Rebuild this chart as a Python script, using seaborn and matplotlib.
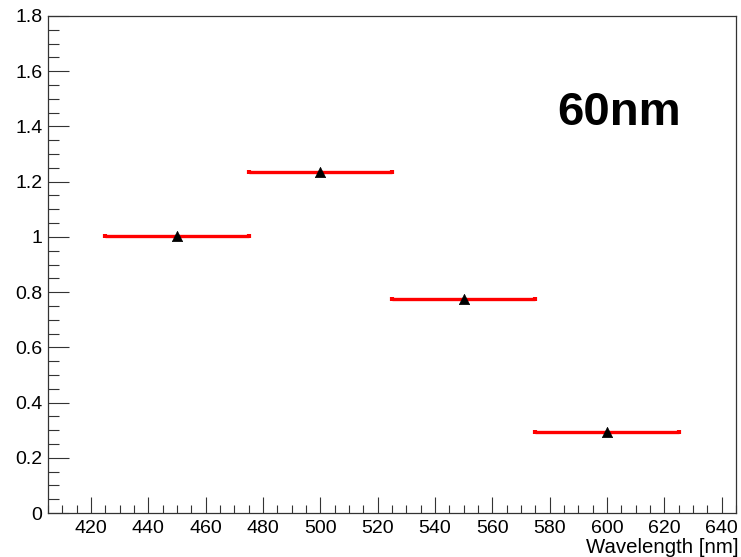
import matplotlib
matplotlib.use("Agg")
import matplotlib.pyplot as plt
import seaborn as sns
import pandas as pd
import numpy as np
from matplotlib.ticker import MultipleLocator, FuncFormatter

wavelength = [450, 500, 550, 600]
ratio = [1.002, 1.236, 0.774, 0.292]
x_err = [25, 25, 25, 25]
label_text = "60nm"
x_label = "Wavelength [nm]"

sns.set_style("white")
plt.rcParams['font.family'] = ['Liberation Sans', 'DejaVu Sans']
plt.rcParams['text.color'] = 'black'
plt.rcParams['xtick.color'] = 'black'
plt.rcParams['ytick.color'] = 'black'

df = pd.DataFrame({"wavelength": wavelength, "ratio": ratio, "xerr": x_err})

fig = plt.figure(figsize=(7.41, 5.57), dpi=100)
ax = fig.add_axes([48/741, 44/557, (736-48)/741, (513-16)/557])

ax.errorbar(df["wavelength"], df["ratio"], xerr=df["xerr"], fmt='none',
            ecolor='red', elinewidth=2.4, capsize=1.5, capthick=3, zorder=2)
sns.scatterplot(data=df, x="wavelength", y="ratio", marker='^', color='black',
                s=55, edgecolor='black', linewidth=0.5, ax=ax, zorder=3)

ax.set_xlim(405, 645)
ax.set_ylim(0, 1.8)
ax.xaxis.set_major_locator(MultipleLocator(20))
ax.xaxis.set_minor_locator(MultipleLocator(5))
ax.yaxis.set_major_locator(MultipleLocator(0.2))
ax.yaxis.set_minor_locator(MultipleLocator(0.05))

def yfmt(v, pos):
    s = f"{v:.1f}"
    if s.endswith(".0"):
        s = s[:-2]
    return s
ax.yaxis.set_major_formatter(FuncFormatter(yfmt))

ax.tick_params(axis='both', which='both', direction='in', top=False, right=False,
               bottom=True, left=True, labelsize=14, width=0.8,
               color='#333333', labelcolor='black')
ax.tick_params(axis='x', which='major', length=11.5, pad=5)
ax.tick_params(axis='x', which='minor', length=5.8)
ax.tick_params(axis='y', which='major', length=15, pad=4)
ax.tick_params(axis='y', which='minor', length=8)

for sp in ax.spines.values():
    sp.set_visible(True)
    sp.set_color('#333333')
    sp.set_linewidth(0.9)

ax.set_xlabel("")
ax.set_ylabel("")
fig.text(739/741, 4/557, x_label, ha='right', va='baseline', fontsize=14.7,
         color='black')
ax.text(0.74, 0.78, label_text, transform=ax.transAxes, fontsize=34,
        fontweight='bold', ha='left', va='baseline', color='black')

fig.savefig("out.png", dpi=100)
